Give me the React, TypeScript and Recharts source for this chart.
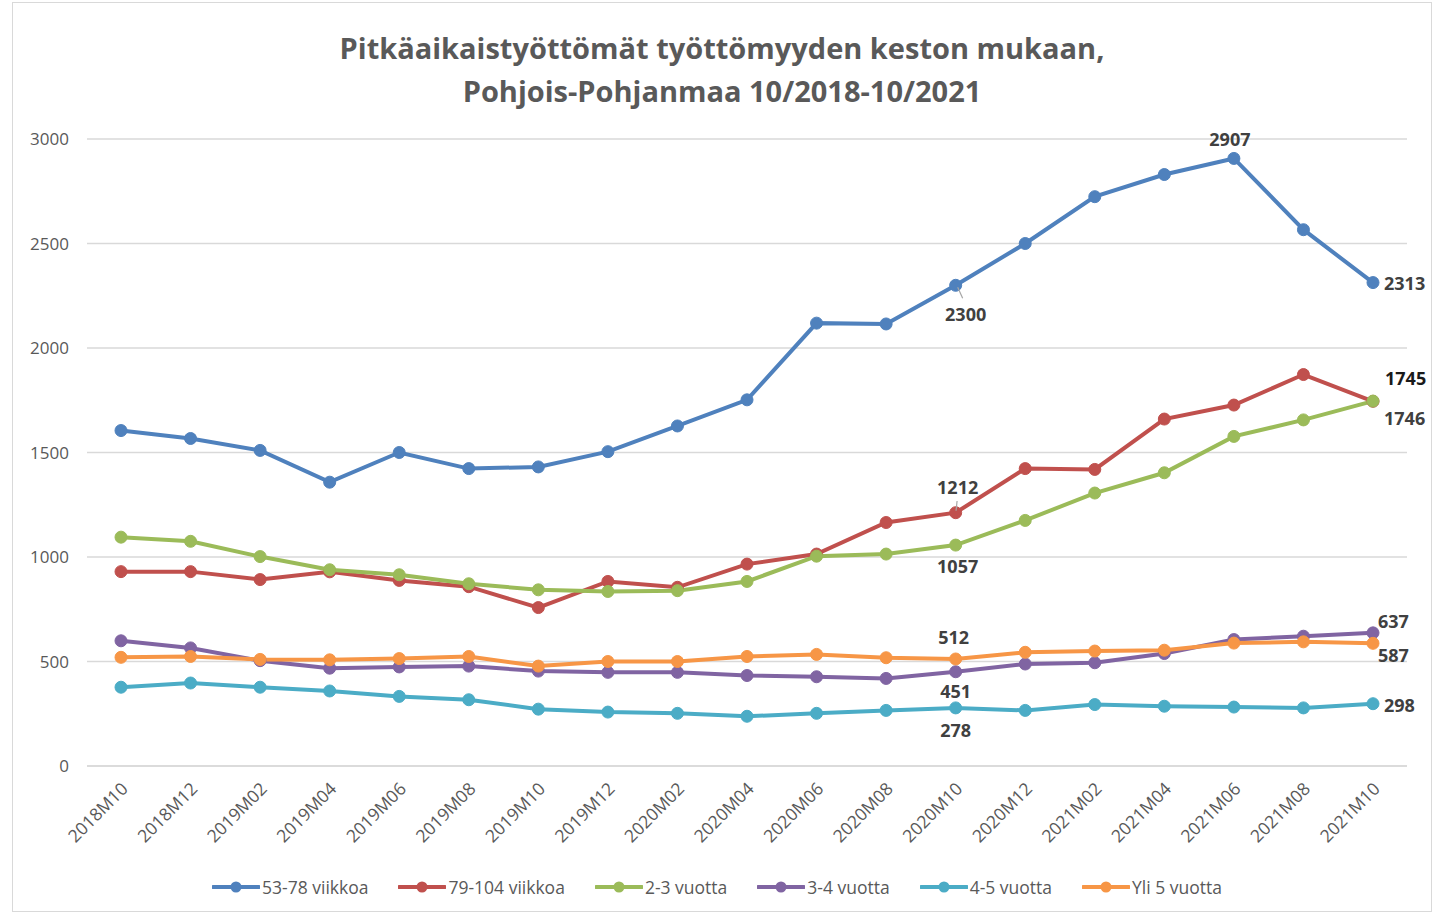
import React from 'react';
import { LineChart, Line, CartesianGrid, XAxis, YAxis, Legend, LabelList } from 'recharts';

const categories = [
  '2018M10', '2018M12', '2019M02', '2019M04', '2019M06', '2019M08', '2019M10',
  '2019M12', '2020M02', '2020M04', '2020M06', '2020M08', '2020M10', '2020M12',
  '2021M02', '2021M04', '2021M06', '2021M08', '2021M10',
];

const viikkoa53_78 = [1605, 1567, 1510, 1358, 1500, 1423, 1431, 1504, 1627, 1752, 2119, 2115, 2300, 2500, 2724, 2830, 2907, 2566, 2313];
const viikkoa79_104 = [930, 930, 892, 929, 888, 858, 758, 883, 855, 966, 1014, 1165, 1212, 1423, 1419, 1660, 1727, 1873, 1745];
const vuotta2_3 = [1095, 1075, 1002, 939, 915, 872, 843, 835, 839, 883, 1004, 1014, 1057, 1175, 1306, 1403, 1577, 1656, 1746];
const vuotta3_4 = [599, 565, 504, 468, 474, 478, 454, 448, 448, 433, 427, 419, 451, 488, 494, 538, 605, 621, 637];
const vuotta4_5 = [377, 397, 377, 359, 333, 317, 272, 258, 252, 238, 252, 266, 278, 266, 294, 286, 282, 278, 298];
const yli5 = [520, 524, 510, 508, 514, 524, 478, 500, 500, 524, 534, 518, 512, 544, 550, 554, 588, 594, 587];

const yTicks = [0, 500, 1000, 1500, 2000, 2500, 3000];

const data = categories.map((name, i) => ({
  name,
  a: viikkoa53_78[i],
  b: viikkoa79_104[i],
  c: vuotta2_3[i],
  d: vuotta3_4[i],
  e: vuotta4_5[i],
  f: yli5[i],
}));

// label placement per series: index -> offset from the point
type LabelPos = { dx: number; dy: number; anchor: 'start' | 'middle'; leader?: boolean; color?: string };

const series: { key: string; name: string; color: string; labels: Record<number, LabelPos> }[] = [
  {
    key: 'a', name: '53-78 viikkoa', color: '#4F81BD',
    labels: {
      12: { dx: 10, dy: 29, anchor: 'middle', leader: true },
      16: { dx: -4, dy: -19, anchor: 'middle' },
      18: { dx: 11, dy: 0, anchor: 'start' },
    },
  },
  {
    key: 'b', name: '79-104 viikkoa', color: '#C0504D',
    labels: {
      12: { dx: 2, dy: -26, anchor: 'middle', leader: true },
      18: { dx: 12, dy: -23, anchor: 'start', color: '#1a1a1a' },
    },
  },
  {
    key: 'c', name: '2-3 vuotta', color: '#9BBB59',
    labels: {
      12: { dx: 2, dy: 21, anchor: 'middle' },
      18: { dx: 11, dy: 17, anchor: 'start' },
    },
  },
  {
    key: 'd', name: '3-4 vuotta', color: '#8064A2',
    labels: {
      12: { dx: 0, dy: 19, anchor: 'middle' },
      18: { dx: 5, dy: -12, anchor: 'start' },
    },
  },
  {
    key: 'e', name: '4-5 vuotta', color: '#4BACC6',
    labels: {
      12: { dx: 0, dy: 22, anchor: 'middle' },
      18: { dx: 11, dy: 1, anchor: 'start' },
    },
  },
  {
    key: 'f', name: 'Yli 5 vuotta', color: '#F79646',
    labels: {
      12: { dx: -2, dy: -22, anchor: 'middle' },
      18: { dx: 5, dy: 12, anchor: 'start' },
    },
  },
];

const font = '"Open Sans", "DejaVu Sans", sans-serif';

const makeLabel = (labels: Record<number, LabelPos>) => (props: any) => {
  const { x, y, value, index } = props;
  const pos = labels[index];
  if (!pos) return null;
  const lx = x + pos.dx;
  const ly = y + pos.dy;
  return (
    <g>
      {pos.leader && (
        <line
          x1={x + pos.dx * 0.2}
          y1={y + Math.sign(pos.dy) * 2}
          x2={x + pos.dx * 0.7}
          y2={y + pos.dy * 0.45}
          stroke="#A6A6A6"
          strokeWidth={1.2}
        />
      )}
      <text
        x={lx}
        y={ly}
        textAnchor={pos.anchor}
        dominantBaseline="central"
        fontFamily={font}
        fontWeight={700}
        fontSize={18}
        fill={pos.color || '#404040'}
      >
        {value}
      </text>
    </g>
  );
};

const XTick = (props: any) => {
  const { x, y, payload } = props;
  const tx = x + 8;
  const ty = y + 16;
  return (
    <text
      x={tx}
      y={ty}
      textAnchor="end"
      transform={`rotate(-45, ${tx}, ${ty})`}
      fontFamily={font}
      fontSize={17.5}
      fill="#595959"
    >
      {payload.value}
    </text>
  );
};

const LegendContent = () => (
  <div
    style={{
      display: 'flex',
      justifyContent: 'center',
      fontFamily: font,
      fontSize: 17.5,
      color: '#595959',
      paddingTop: 4,
      paddingLeft: 30,
    }}
  >
    {series.map((s) => (
      <div key={s.key} style={{ display: 'flex', alignItems: 'center', marginRight: 30 }}>
        <svg width={48} height={14}>
          <line x1={1} y1={7} x2={47} y2={7} stroke={s.color} strokeWidth={4} strokeLinecap="round" />
          <circle cx={24} cy={7} r={5.5} fill={s.color} />
        </svg>
        <span style={{ marginLeft: 2 }}>{s.name}</span>
      </div>
    ))}
  </div>
);

export default function App() {
  return (
    <div
      style={{
        position: 'absolute',
        left: 12,
        top: 2,
        width: 1418,
        height: 908,
        border: '1px solid #D9D9D9',
        background: '#fff',
      }}
    >
      <div
        style={{
          position: 'absolute',
          left: 0,
          top: 23,
          width: '100%',
          textAlign: 'center',
          fontFamily: font,
          fontWeight: 700,
          fontSize: 29,
          lineHeight: '43px',
          color: '#595959',
          zIndex: 2,
        }}
      >
        Pitkäaikaistyöttömät työttömyyden keston mukaan,
        <br />
        Pohjois-Pohjanmaa 10/2018-10/2021
      </div>
      <LineChart width={1418} height={908} data={data} margin={{ top: 136, right: 24, left: 14, bottom: 0 }}>
        <CartesianGrid vertical={false} stroke="#D9D9D9" strokeWidth={1.5} />
        <XAxis
          dataKey="name"
          axisLine={{ stroke: '#D9D9D9', strokeWidth: 1.5 }}
          tickLine={false}
          interval={0}
          height={105}
          padding={{ left: 34, right: 34 }}
          tick={<XTick />}
        />
        <YAxis
          domain={[0, 3000]}
          ticks={yTicks}
          width={60}
          axisLine={false}
          tickLine={false}
          tick={{ fontFamily: font, fontSize: 17, fill: '#595959', dx: -10 }}
        />
        <Legend verticalAlign="bottom" height={40} content={<LegendContent />} />
        {series.map((s) => (
          <Line
            key={s.key}
            dataKey={s.key}
            name={s.name}
            stroke={s.color}
            strokeWidth={4}
            dot={{ r: 6, fill: s.color, stroke: s.color, strokeWidth: 1 }}
            activeDot={false}
            isAnimationActive={false}
          >
            <LabelList dataKey={s.key} content={makeLabel(s.labels)} />
          </Line>
        ))}
      </LineChart>
    </div>
  );
}
